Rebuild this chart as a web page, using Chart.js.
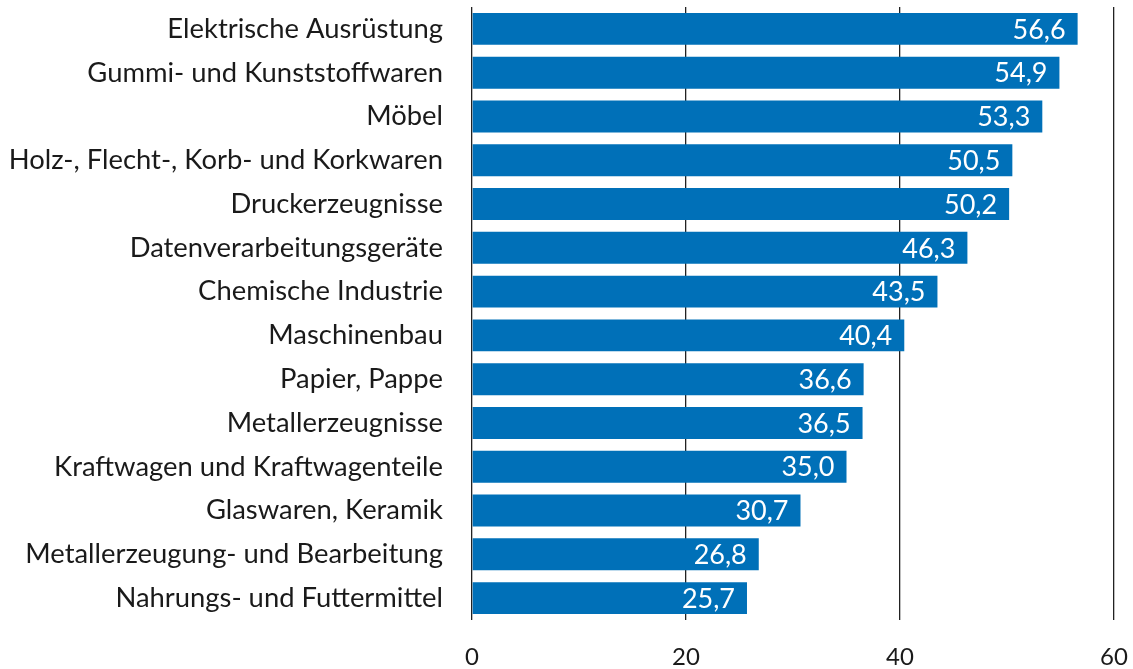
<!DOCTYPE html>
<html>
<head>
<meta charset="utf-8">
<script src="https://cdn.jsdelivr.net/npm/chart.js@4/dist/chart.umd.min.js"></script>
<style>
  html, body { margin: 0; padding: 0; background: #ffffff; overflow: hidden; }
  #wrap { width: 1133px; height: 669px; }
</style>
</head>
<body>
<div id="wrap"><canvas id="barChart"></canvas></div>
<script>
// Branchen (Kategorien) und Werte
const categories = [
    'Elektrische Ausrüstung',
    'Gummi- und Kunststoffwaren',
    'Möbel',
    'Holz-, Flecht-, Korb- und Korkwaren',
    'Druckerzeugnisse',
    'Datenverarbeitungsgeräte',
    'Chemische Industrie',
    'Maschinenbau',
    'Papier, Pappe',
    'Metallerzeugnisse',
    'Kraftwagen und Kraftwagenteile',
    'Glaswaren, Keramik',
    'Metallerzeugung- und Bearbeitung',
    'Nahrungs- und Futtermittel'
];
const values = [56.6, 54.9, 53.3, 50.5, 50.2, 46.3, 43.5, 40.4, 36.6, 36.5, 35.0, 30.7, 26.8, 25.7];
const xTicks = [0, 20, 40, 60];

const BAR_COLOR = '#0070b8';
const TEXT_COLOR = '#1a1a1a';
const FONT = 'Lato, "Open Sans", sans-serif';

// Wert-Beschriftung innen am Balkenende
const valueLabels = {
    id: 'valueLabels',
    afterDatasetsDraw(chart) {
        const ctx = chart.ctx;
        const meta = chart.getDatasetMeta(0);
        ctx.save();
        ctx.fillStyle = '#ffffff';
        ctx.font = '27px ' + FONT;
        ctx.textAlign = 'right';
        ctx.textBaseline = 'middle';
        meta.data.forEach((bar, i) => {
            const txt = values[i].toFixed(1).replace('.', ',');
            ctx.fillText(txt, bar.x - 12, bar.y + 1);
        });
        ctx.restore();
    }
};

new Chart(document.getElementById('barChart').getContext('2d'), {
    type: 'bar',
    data: {
        labels: categories,
        datasets: [{
            data: values,
            backgroundColor: BAR_COLOR,
            borderWidth: 0,
            categoryPercentage: 1.0,
            barPercentage: 0.73
        }]
    },
    options: {
        indexAxis: 'y',
        responsive: true,
        maintainAspectRatio: false,
        animation: false,
        layout: { padding: { top: 7, right: 19, bottom: 0, left: 0 } },
        plugins: {
            legend: { display: false },
            tooltip: { enabled: false }
        },
        scales: {
            x: {
                min: 0,
                max: 60,
                afterBuildTicks(scale) {
                    scale.ticks = xTicks.map(v => ({ value: v }));
                },
                afterFit(scale) {
                    scale.height = 49;
                    scale.paddingLeft = 0;
                    scale.paddingRight = 0;
                },
                grid: {
                    color: '#222222',
                    lineWidth: 1.3,
                    drawTicks: false
                },
                border: { display: false },
                ticks: {
                    color: TEXT_COLOR,
                    padding: 23,
                    font: { family: FONT, size: 24 }
                }
            },
            y: {
                grid: { display: false },
                border: { display: false },
                afterFit(scale) {
                    scale.width = 472;
                    scale.paddingTop = 0;
                    scale.paddingBottom = 0;
                },
                ticks: {
                    color: TEXT_COLOR,
                    padding: 21,
                    font: { family: FONT, size: 27.4 }
                }
            }
        }
    },
    plugins: [valueLabels]
});
</script>
</body>
</html>
